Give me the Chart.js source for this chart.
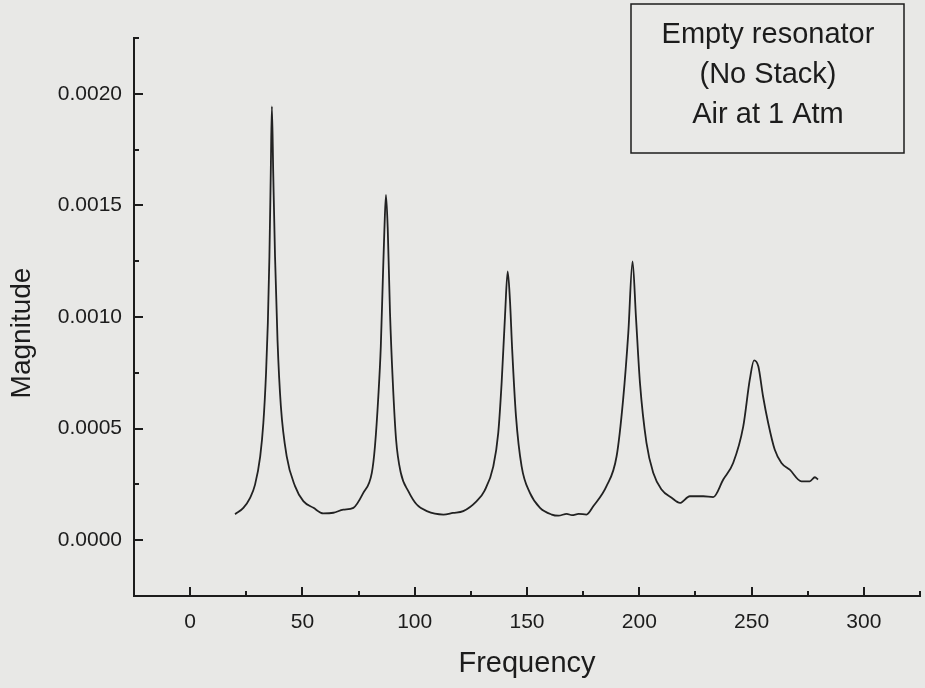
<!DOCTYPE html>
<html>
<head>
<meta charset="utf-8">
<script src="https://cdn.jsdelivr.net/npm/chart.js@4.4.1/dist/chart.umd.min.js"></script>
<style>
  body { margin: 0; background: #e8e8e6; }
  #wrap { width: 925px; height: 688px; }
</style>
</head>
<body>
<div id="wrap"><canvas id="spectrum" width="925" height="688"></canvas></div>
<script>
// values
const freq = [20.0, 23.7, 26.7, 28.9, 31.2, 32.6, 33.8, 34.6, 35.3, 35.9, 36.4, 37.0, 37.8, 38.9, 40.4, 43.0, 46.7, 50.4, 54.9, 59.3, 63.8, 68.2,
  72.7, 77.1, 80.9, 82.3, 83.8, 84.9, 85.8, 86.5, 87.2, 88.0, 89.0, 90.2, 91.7, 93.8, 97.2, 100.9, 105.4, 112.8, 117.0, 121.6, 127.6, 131.0,
  135.0, 137.2, 138.7, 140.2, 141.4, 142.4, 143.4, 145.1, 147.6, 151.3, 155.8, 161.0, 164.0, 167.7, 170.0, 173.0, 176.5, 179.5, 185.4, 189.9,
  192.8, 195.1, 197.0, 198.5, 200.3, 203.2, 206.2, 209.9, 214.4, 218.1, 222.5, 228.5, 232.9, 237.4, 241.8, 246.3, 249.2, 251.1, 253.0, 255.1,
  257.4, 260.3, 263.3, 267.0, 272.2, 275.9, 278.2, 279.6];
const magnitude = [0.000116, 0.000145, 0.000190, 0.000249, 0.000376, 0.000525, 0.000749, 0.000973, 0.001271, 0.001644, 0.001943, 0.001644,
  0.001271, 0.000898, 0.000600, 0.000376, 0.000242, 0.000175, 0.000145, 0.000120, 0.000123, 0.000137,
  0.000145, 0.000212, 0.000302, 0.000421, 0.000645, 0.000868, 0.001167, 0.001391, 0.001547, 0.001391, 0.001018, 0.000719, 0.000451, 0.000302,
  0.000219, 0.000160, 0.000130, 0.000115, 0.000122, 0.000130, 0.000175, 0.000220,
  0.000331, 0.000481, 0.000705, 0.001003, 0.001204, 0.001077, 0.000854, 0.000555, 0.000331, 0.000212, 0.000145, 0.000115, 0.000110, 0.000118,
  0.000112, 0.000118, 0.000115, 0.000152, 0.000242, 0.000376,
  0.000630, 0.000928, 0.001249, 0.001003, 0.000705, 0.000436, 0.000302, 0.000227, 0.000190, 0.000167, 0.000197, 0.000197, 0.000193, 0.000272,
  0.000346, 0.000510, 0.000719, 0.000806, 0.000779, 0.000645,
  0.000525, 0.000406, 0.000346, 0.000316, 0.000264, 0.000264, 0.000282, 0.000272];

const xTicks = [0, 50, 100, 150, 200, 250, 300];
const yTicks = [0.0000, 0.0005, 0.0010, 0.0015, 0.0020];
const noteLines = ["Empty resonator", "(No Stack)", "Air at 1 Atm"];

const FONT = "'Liberation Sans', Arial, Helvetica, sans-serif";
const INK = "#1c1c1c";

// inward tick marks, y title and the note box
const decor = {
  id: "decor",
  afterDraw(chart) {
    const ctx = chart.ctx;
    const xs = chart.scales.x, ys = chart.scales.y;
    const area = chart.chartArea;
    ctx.save();
    ctx.strokeStyle = INK;
    ctx.lineWidth = 2;
    ctx.beginPath();
    for (let v = xs.min; v <= xs.max + 0.001; v += 25) {
      const px = Math.round(xs.getPixelForValue(v));
      const len = v % 50 === 0 ? 9 : 5;
      ctx.moveTo(px, area.bottom);
      ctx.lineTo(px, area.bottom - len);
    }
    for (let i = 0; i <= 10; i++) {
      const v = ys.min + i * 0.00025;
      const py = Math.round(ys.getPixelForValue(v));
      const len = i % 2 === 1 ? 9 : 5;
      ctx.moveTo(area.left, py);
      ctx.lineTo(area.left + len, py);
    }
    ctx.stroke();

    // y title, a bit below the axis middle as in the original
    ctx.fillStyle = INK;
    ctx.font = "28px " + FONT;
    ctx.textAlign = "center";
    ctx.textBaseline = "middle";
    ctx.translate(22, 333);
    ctx.rotate(-Math.PI / 2);
    ctx.fillText("Magnitude", 0, 0);
    ctx.setTransform(1, 0, 0, 1, 0, 0);

    // note box
    ctx.lineWidth = 1.5;
    ctx.fillStyle = "#e9e9e7";
    ctx.fillRect(631, 4, 273, 149);
    ctx.strokeRect(631, 4, 273, 149);
    ctx.fillStyle = INK;
    ctx.font = "29px " + FONT;
    ctx.textBaseline = "alphabetic";
    noteLines.forEach((t, i) => ctx.fillText(t, 768, 43 + i * 40));
    ctx.restore();
  }
};

const ctx = document.getElementById("spectrum");

new Chart(ctx, {
  type: "scatter",
  data: {
    datasets: [
      {
        data: freq.map((f, i) => ({ x: f, y: magnitude[i] })),
        showLine: true,
        borderColor: "#222",
        borderWidth: 1.8,
        pointRadius: 0,
        cubicInterpolationMode: "monotone",
      },
    ],
  },
  options: {
    responsive: false,
    animation: false,
    layout: { padding: { top: 38, right: 5, left: 0, bottom: 0 } },
    plugins: { legend: { display: false }, tooltip: { enabled: false } },
    scales: {
      x: {
        type: "linear",
        min: -25,
        max: 325,
        afterBuildTicks: (s) => { s.ticks = xTicks.map((v) => ({ value: v })); },
        afterFit: (s) => { s.height = 92; },
        grid: { display: false, drawTicks: false },
        border: { display: true, color: INK, width: 2 },
        ticks: { color: INK, padding: 14, font: { family: FONT, size: 21 } },
        title: {
          display: true,
          text: "Frequency",
          color: INK,
          font: { family: FONT, size: 29, lineHeight: 1.2 },
          padding: { bottom: 7, top: 0 },
        },
      },
      y: {
        type: "linear",
        min: -0.00025,
        max: 0.00225,
        afterBuildTicks: (s) => { s.ticks = yTicks.map((v) => ({ value: v })); },
        afterFit: (s) => { s.width = 134; },
        grid: { display: false, drawTicks: false },
        border: { display: true, color: INK, width: 2 },
        ticks: {
          color: INK,
          padding: 12,
          font: { family: FONT, size: 21 },
          callback: (v) => v.toFixed(4),
        },
        title: { display: false },
      },
    },
  },
  plugins: [decor],
});
</script>
</body>
</html>
